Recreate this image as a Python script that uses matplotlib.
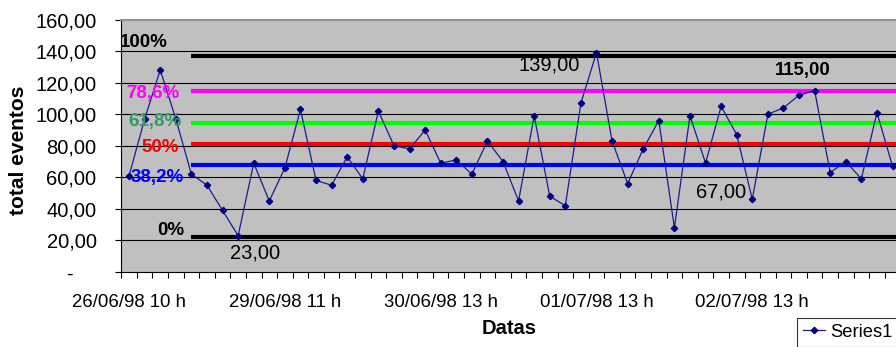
import numpy as np
import matplotlib
matplotlib.use("Agg")
import matplotlib.pyplot as plt
from matplotlib.ticker import FuncFormatter, FixedLocator
from matplotlib.lines import Line2D

plt.rcParams['font.family'] = ['Liberation Sans', 'DejaVu Sans']

# ---- data ----
values = [61, 97, 128, 97, 62, 55, 39, 23, 69, 45,
          66, 103, 58, 55, 73, 59, 102, 80, 78, 90,
          69, 71, 62, 83, 70, 45, 99, 48, 42, 107,
          139, 83, 56, 78, 96, 28, 99, 69, 105, 87,
          46, 100, 104, 112, 115, 63, 70, 59, 101, 67]
tick_positions = [0, 10, 20, 30, 40]
tick_labels = ["26/06/98 10 h", "29/06/98 11 h", "30/06/98 13 h",
               "01/07/98 13 h", "02/07/98 13 h"]
level_names = ["100%", "78,6%", "61,8%", "50%", "38,2%", "0%"]
level_values = [137, 114.5, 94.5, 81, 67.5, 22]
level_colors = ["#000000", "#FF00FF", "#00FF00", "#FF0000", "#0000FF", "#000000"]
level_text_colors = ["#000000", "#FF00FF", "#339966", "#FF0000", "#0000FF", "#000000"]
level_label_x = [2.48, 3.25, 3.40, 3.18, 3.50, 3.57]
level_label_y = [145.5, 113.3, 95.6, 78.6, 59.6, 26.1]
level_start = 4
annot_texts = ["23,00", "139,00", "67,00", "115,00"]
annot_x = [8.08, 26.98, 37.99, 43.25]
annot_y = [12.2, 131, 51, 127.8]
annot_bold = [False, False, False, True]
yticks = [0, 20, 40, 60, 80, 100, 120, 140, 160]

W, H = 896, 347
fig = plt.figure(figsize=(W / 100, H / 100), dpi=100)
left_px, right_px, top_px, bottom_px = 121.3, 896, 19.5, 272
ax = fig.add_axes([left_px / W, 1 - bottom_px / H,
                   (right_px - left_px) / W, (bottom_px - top_px) / H])
ax.set_facecolor("#C0C0C0")
cat_w = 15.58
ax.set_xlim(-0.5, -0.5 + (right_px - left_px) / cat_w)
ax.set_ylim(0, 160)

# gridlines
for yv in yticks[1:-1]:
    ax.axhline(yv, color="#000000", lw=0.8, zorder=1)

# level lines
for v, c in zip(level_values, level_colors):
    ax.plot([level_start, 60], [v, v], color=c, lw=3.0, solid_capstyle='butt', zorder=2)

# level labels
for name, lx, ly, tc in zip(level_names, level_label_x, level_label_y, level_text_colors):
    ax.text(lx, ly, name, color=tc, fontsize=13.5, fontweight='bold',
            ha='right', va='center', zorder=4)

# data series
x = np.arange(len(values))
ax.plot(x, values, color="#1c1c8a", lw=0.9, marker='D', markersize=3.2,
        markerfacecolor="#000080", markeredgecolor="#000080", zorder=3)

# annotations
for t, axx, ayy, b in zip(annot_texts, annot_x, annot_y, annot_bold):
    ax.text(axx, ayy, t, fontsize=13.4 if b else 14.5,
            fontweight='bold' if b else 'normal', ha='center', va='center',
            color="#000000", zorder=5)

# spines
ax.spines['right'].set_visible(False)
ax.spines['top'].set_color("#909090")
ax.spines['top'].set_linewidth(1.5)
ax.spines['left'].set_color("#000000")
ax.spines['bottom'].set_color("#000000")

# y axis
ax.set_yticks(yticks)
ax.yaxis.set_major_formatter(FuncFormatter(
    lambda v, p: "-    " if v == 0 else f"{v:.2f}".replace(".", ",")))
ax.tick_params(axis='y', direction='out', length=4.3, width=0.8, pad=13.5,
               labelsize=14.5, color="#000000")

# x axis
ax.xaxis.set_major_locator(FixedLocator(np.arange(-0.5, len(values) + 5, 1)))
ax.xaxis.set_major_formatter(FuncFormatter(lambda v, p: ""))
ax.xaxis.set_minor_locator(FixedLocator(tick_positions))
ax.set_xticks(tick_positions, minor=True)
ax.set_xticklabels(tick_labels, minor=True)
ax.tick_params(axis='x', which='major', direction='out', length=4.3, width=0.8,
               color="#000000")
ax.tick_params(axis='x', which='minor', length=0, pad=15.5, labelsize=13.4)

fig.text(509 / W, 1 - 329 / H, "Datas", fontsize=14.5, fontweight='bold',
         ha='center', va='center')
fig.text(18.5 / W, 1 - 150 / H, "total eventos", fontsize=15, fontweight='bold',
         rotation=90, ha='center', va='center')

handle = Line2D([], [], color="#1c1c8a", lw=0.9, marker='D', markersize=3.2,
                markerfacecolor="#000080", markeredgecolor="#000080")
leg = fig.legend([handle], ["Series1"], loc='upper left',
                 bbox_to_anchor=(797 / W, 1 - 317.5 / H), fontsize=13.2,
                 frameon=True, fancybox=False, handlelength=1.15,
                 handletextpad=0.3, borderpad=0.35, borderaxespad=0)
leg.get_frame().set_edgecolor("#000000")
leg.get_frame().set_linewidth(0.8)

fig.savefig("out.png", dpi=100)
